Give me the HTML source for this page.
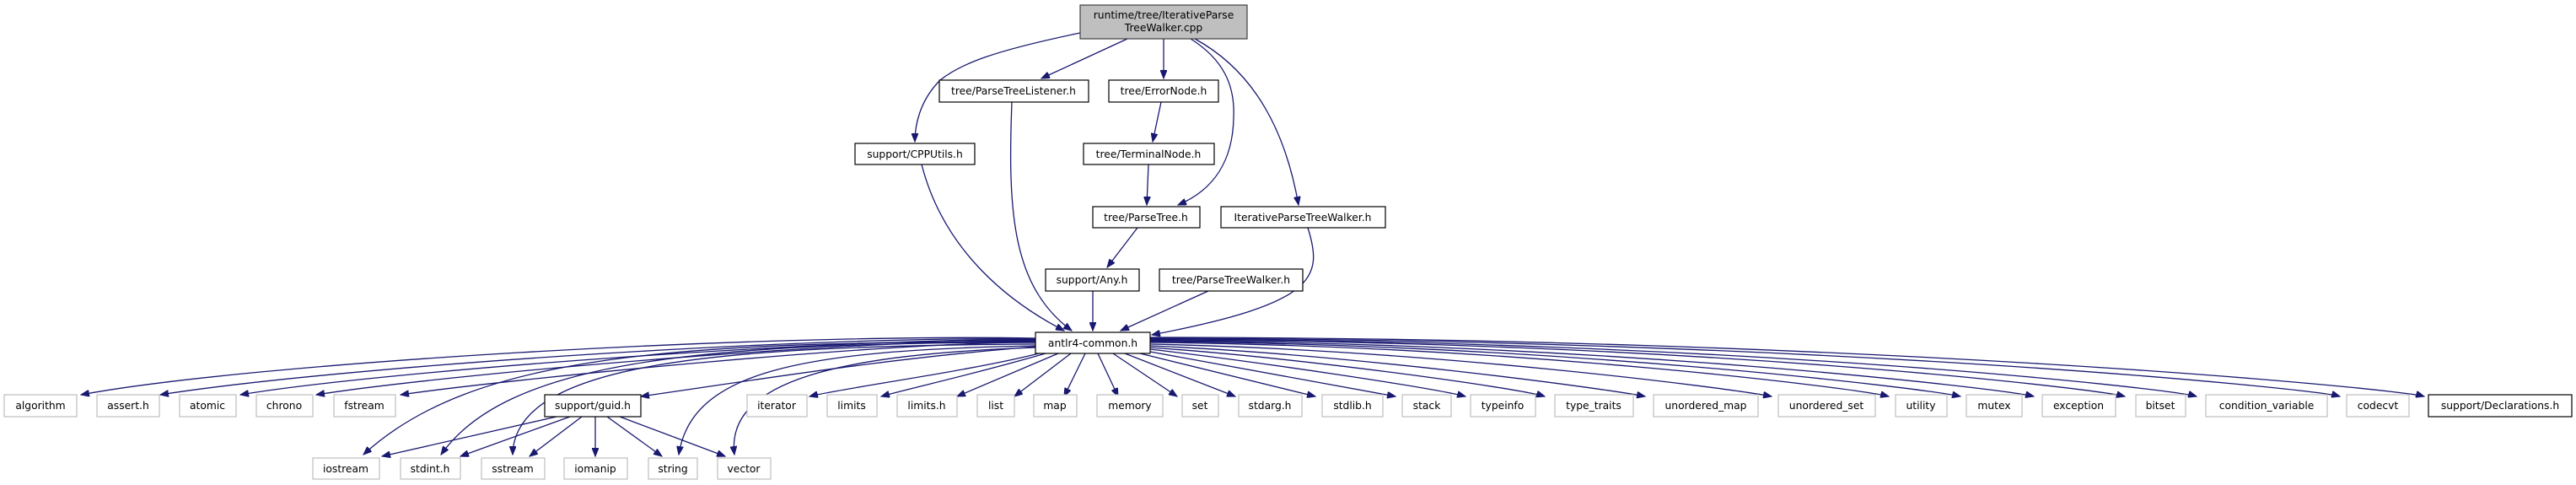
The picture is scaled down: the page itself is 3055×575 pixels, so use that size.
<!DOCTYPE html>
<html><head><meta charset="utf-8"><style>
html,body{margin:0;padding:0;background:#fff;}
svg{display:block;}
text{font-family:"DejaVu Sans","Liberation Sans",sans-serif;font-size:12.3px;fill:#000;text-anchor:middle;}
.g{fill:#fff;stroke:#bfbfbf;stroke-width:1.2;}
.b{fill:#fff;stroke:#000;stroke-width:1.2;}
.e{fill:none;stroke:#191970;stroke-width:1.3;marker-end:url(#ah);}
</style></head><body>
<svg width="3055" height="575" viewBox="0 0 3055 575" xmlns="http://www.w3.org/2000/svg">
<defs><marker id="ah" markerUnits="userSpaceOnUse" markerWidth="11" markerHeight="8" refX="10" refY="4" orient="auto"><path d="M0,0 L10,4 L0,8 z" fill="#191970" stroke="#191970"/></marker></defs>
<g>
<path class="e" d="M1281,39 C1180,60 1140,75 1115,95 C1090,120 1085,150 1085,168"/>
<path class="e" d="M1337,46 L1235,93"/>
<path class="e" d="M1380,46 L1380,93"/>
<path class="e" d="M1412,46 C1450,70 1465,100 1463,140 C1462,190 1440,225 1397,243"/>
<path class="e" d="M1417,46 C1470,75 1520,130 1540,243"/>
<path class="e" d="M1377,121 L1367,168"/>
<path class="e" d="M1362,195 L1360,243"/>
<path class="e" d="M1093,195 C1120,300 1200,360 1262,392"/>
<path class="e" d="M1200,121 C1195,250 1200,340 1271,392"/>
<path class="e" d="M1349,270 L1313,317"/>
<path class="e" d="M1296,345 L1296,392"/>
<path class="e" d="M1433,345 L1329,392"/>
<path class="e" d="M1551,270 C1570,330 1560,360 1366,397"/>

<path class="e" d="M1228,401 C900,395 300,430 96,468"/>
<path class="e" d="M1228,402 C950,398 400,435 190,468"/>
<path class="e" d="M1228,403 C1000,400 450,440 285,468"/>
<path class="e" d="M1228,404 C1000,402 520,445 375,468"/>
<path class="e" d="M1228,406 C1050,405 600,450 475,468"/>
<path class="e" d="M1228,405 C800,405 560,420 431,539"/>
<path class="e" d="M1228,406 C820,406 600,430 523,539"/>
<path class="e" d="M1228,408 C850,410 610,430 608,539"/>
<path class="e" d="M1228,410 C950,415 820,440 805,539"/>
<path class="e" d="M1228,412 C1000,420 860,450 871,539"/>
<path class="e" d="M1228,411 C1050,425 900,450 760,470"/>
<path class="e" d="M1232,419 C1150,440 1000,460 960,470"/>
<path class="e" d="M1240,419 C1150,445 1080,460 1045,470"/>
<path class="e" d="M1255,419 L1135,470"/>
<path class="e" d="M1270,419 L1203,470"/>
<path class="e" d="M1287,419 L1262,470"/>
<path class="e" d="M1302,419 L1326,470"/>
<path class="e" d="M1320,419 L1396,470"/>
<path class="e" d="M1334,419 L1465,470"/>
<path class="e" d="M1352,419 L1560,470"/>
<path class="e" d="M1364,417 L1655,470"/>
<path class="e" d="M1364,414 C1500,430 1700,460 1738,470"/>
<path class="e" d="M1364,412 C1550,425 1800,460 1832,470"/>
<path class="e" d="M1364,410 C1600,420 1900,460 1951,470"/>
<path class="e" d="M1364,408 C1700,415 2050,460 2101,470"/>
<path class="e" d="M1364,406 C1800,410 2200,460 2240,470"/>
<path class="e" d="M1364,405 C1850,408 2280,460 2325,470"/>
<path class="e" d="M1364,404 C1900,406 2370,460 2412,470"/>
<path class="e" d="M1364,403 C2000,404 2480,460 2520,470"/>
<path class="e" d="M1364,402 C2050,403 2570,460 2605,470"/>
<path class="e" d="M1364,401 C2150,402 2740,460 2775,470"/>
<path class="e" d="M1364,400 C2200,400 2840,460 2875,470"/>

<path class="e" d="M660,494 L453,541"/>
<path class="e" d="M676,494 L546,541"/>
<path class="e" d="M690,494 L628,541"/>
<path class="e" d="M706,494 L706,541"/>
<path class="e" d="M720,494 L785,541"/>
<path class="e" d="M735,494 L860,541"/>
</g>

<rect x="1281" y="6" width="198" height="40" fill="#bfbfbf" stroke="#404040" stroke-width="1.2"/>
<text x="1380" y="22">runtime/tree/IterativeParse</text>
<text x="1380" y="37">TreeWalker.cpp</text>

<rect class="b" x="1114" y="95" width="177" height="26"/><text x="1202" y="112">tree/ParseTreeListener.h</text>
<rect class="b" x="1315" y="95" width="130" height="26"/><text x="1380" y="112">tree/ErrorNode.h</text>
<rect class="b" x="1014" y="170" width="142" height="25"/><text x="1085" y="187">support/CPPUtils.h</text>
<rect class="b" x="1285" y="170" width="155" height="25"/><text x="1362" y="187">tree/TerminalNode.h</text>
<rect class="b" x="1296" y="245" width="127" height="25"/><text x="1359" y="262">tree/ParseTree.h</text>
<rect class="b" x="1448" y="245" width="195" height="25"/><text x="1545" y="262">IterativeParseTreeWalker.h</text>
<rect class="b" x="1240" y="319" width="111" height="26"/><text x="1295" y="336">support/Any.h</text>
<rect class="b" x="1375" y="319" width="170" height="26"/><text x="1460" y="336">tree/ParseTreeWalker.h</text>
<rect class="b" x="1228" y="394" width="136" height="25"/><text x="1296" y="411">antlr4-common.h</text>

<g>
<rect class="g" x="5" y="468" width="86" height="26"/><text x="48" y="485">algorithm</text>
<rect class="g" x="115" y="468" width="74" height="26"/><text x="152" y="485">assert.h</text>
<rect class="g" x="213" y="468" width="67" height="26"/><text x="246" y="485">atomic</text>
<rect class="g" x="304" y="468" width="67" height="26"/><text x="337" y="485">chrono</text>
<rect class="g" x="396" y="468" width="73" height="26"/><text x="432" y="485">fstream</text>
<rect class="b" x="646" y="468" width="114" height="26"/><text x="703" y="485">support/guid.h</text>
<rect class="g" x="886" y="468" width="71" height="26"/><text x="921" y="485">iterator</text>
<rect class="g" x="981" y="468" width="59" height="26"/><text x="1010" y="485">limits</text>
<rect class="g" x="1064" y="468" width="71" height="26"/><text x="1099" y="485">limits.h</text>
<rect class="g" x="1159" y="468" width="44" height="26"/><text x="1181" y="485">list</text>
<rect class="g" x="1226" y="468" width="51" height="26"/><text x="1251" y="485">map</text>
<rect class="g" x="1301" y="468" width="78" height="26"/><text x="1340" y="485">memory</text>
<rect class="g" x="1402" y="468" width="43" height="26"/><text x="1423" y="485">set</text>
<rect class="g" x="1469" y="468" width="75" height="26"/><text x="1506" y="485">stdarg.h</text>
<rect class="g" x="1568" y="468" width="72" height="26"/><text x="1604" y="485">stdlib.h</text>
<rect class="g" x="1663" y="468" width="58" height="26"/><text x="1692" y="485">stack</text>
<rect class="g" x="1744" y="468" width="77" height="26"/><text x="1782" y="485">typeinfo</text>
<rect class="g" x="1844" y="468" width="93" height="26"/><text x="1890" y="485">type_traits</text>
<rect class="g" x="1961" y="468" width="124" height="26"/><text x="2023" y="485">unordered_map</text>
<rect class="g" x="2109" y="468" width="115" height="26"/><text x="2166" y="485">unordered_set</text>
<rect class="g" x="2248" y="468" width="61" height="26"/><text x="2278" y="485">utility</text>
<rect class="g" x="2332" y="468" width="66" height="26"/><text x="2365" y="485">mutex</text>
<rect class="g" x="2422" y="468" width="87" height="26"/><text x="2465" y="485">exception</text>
<rect class="g" x="2533" y="468" width="59" height="26"/><text x="2562" y="485">bitset</text>
<rect class="g" x="2616" y="468" width="144" height="26"/><text x="2688" y="485">condition_variable</text>
<rect class="g" x="2783" y="468" width="74" height="26"/><text x="2820" y="485">codecvt</text>
<rect class="b" x="2880" y="468" width="170" height="26"/><text x="2965" y="485">support/Declarations.h</text>

<rect class="g" x="371" y="543" width="79" height="25"/><text x="410" y="560">iostream</text>
<rect class="g" x="475" y="543" width="71" height="25"/><text x="510" y="560">stdint.h</text>
<rect class="g" x="571" y="543" width="75" height="25"/><text x="608" y="560">sstream</text>
<rect class="g" x="669" y="543" width="75" height="25"/><text x="706" y="560">iomanip</text>
<rect class="g" x="769" y="543" width="58" height="25"/><text x="798" y="560">string</text>
<rect class="g" x="851" y="543" width="63" height="25"/><text x="882" y="560">vector</text>
</g>
</svg>
</body></html>
